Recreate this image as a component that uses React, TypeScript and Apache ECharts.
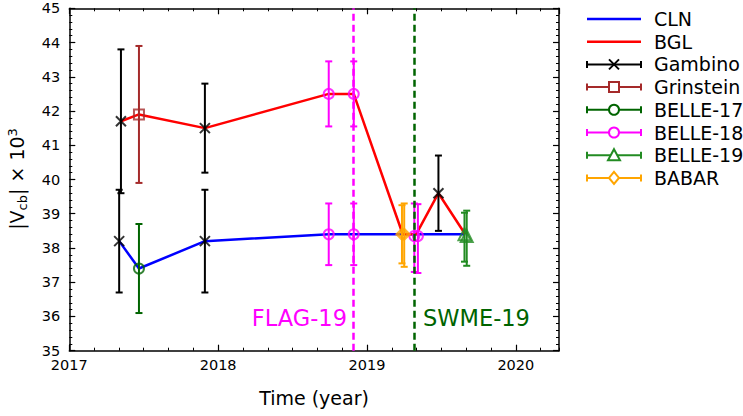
import React, { useEffect, useRef } from "react";
import * as echarts from "echarts";

const X_MIN = 2017;
const X_MAX = 2020.29;
const Y_MIN = 35;
const Y_MAX = 45;
const xTickLabels = ["2017", "2018", "2019", "2020"];

// Fit lines
const clnX = [2017.335, 2017.468, 2017.911, 2018.743, 2018.911, 2019.24, 2019.33, 2019.66];
const clnY = [38.2, 37.4, 38.2, 38.4, 38.4, 38.4, 38.4, 38.4];
const bglX = [2017.347, 2017.468, 2017.911, 2018.743, 2018.911, 2019.24, 2019.33, 2019.48, 2019.66];
const bglY = [41.7, 41.9, 41.5, 42.5, 42.5, 38.4, 38.4, 39.6, 38.4];

// Measurements [x, y, low, high]
const gambinoX = [2017.347, 2017.335, 2017.911, 2017.911, 2019.48];
const gambinoY = [41.7, 38.2, 41.5, 38.2, 39.6];
const gambinoLo = [39.6, 36.7, 40.2, 36.7, 38.5];
const gambinoHi = [43.8, 39.7, 42.8, 39.7, 40.7];

const grinsteinX = [2017.468];
const grinsteinY = [41.9];
const grinsteinLo = [39.9];
const grinsteinHi = [43.9];

const belle17X = [2017.468];
const belle17Y = [37.4];
const belle17Lo = [36.1];
const belle17Hi = [38.7];

const belle18X = [2018.743, 2018.911, 2018.743, 2018.911, 2019.318, 2019.342];
const belle18Y = [42.5, 42.5, 38.4, 38.4, 38.35, 38.35];
const belle18Lo = [41.55, 41.55, 37.5, 37.5, 37.3, 37.27];
const belle18Hi = [43.45, 43.45, 39.3, 39.3, 39.3, 39.28];

const belle19X = [2019.655, 2019.67];
const belle19Y = [38.4, 38.35];
const belle19Lo = [37.6, 37.48];
const belle19Hi = [39.03, 39.09];

const babarX = [2019.235, 2019.25];
const babarY = [38.4, 38.4];
const babarLo = [37.55, 37.45];
const babarHi = [39.25, 39.3];

const flagX = 2018.911;
const swmeX = 2019.32;

const FONT = "DejaVu Sans";
const MAGENTA = "#ff00ff";
const DARKGREEN = "#006400";

type Meas = {
  name: string;
  color: string;
  symbol: string;
  x: number[];
  y: number[];
  lo: number[];
  hi: number[];
};

const CROSS = "path://M0 0L10 10M10 0L0 10";

const measurements: Meas[] = [
  { name: "Gambino", color: "#000000", symbol: CROSS, x: gambinoX, y: gambinoY, lo: gambinoLo, hi: gambinoHi },
  { name: "Grinstein", color: "#a52a2a", symbol: "rect", x: grinsteinX, y: grinsteinY, lo: grinsteinLo, hi: grinsteinHi },
  { name: "BELLE-17", color: DARKGREEN, symbol: "circle", x: belle17X, y: belle17Y, lo: belle17Lo, hi: belle17Hi },
  { name: "BELLE-18", color: MAGENTA, symbol: "circle", x: belle18X, y: belle18Y, lo: belle18Lo, hi: belle18Hi },
  { name: "BELLE-19", color: "#228b22", symbol: "triangle", x: belle19X, y: belle19Y, lo: belle19Lo, hi: belle19Hi },
  { name: "BABAR", color: "#ffa500", symbol: "diamond", x: babarX, y: babarY, lo: babarLo, hi: babarHi },
];

function legendMarker(symbol: string, cx: number, cy: number, color: string): any {
  const st = { stroke: color, fill: "none", lineWidth: 2 };
  const r = 5;
  if (symbol === CROSS) {
    return {
      type: "group",
      children: [
        { type: "line", shape: { x1: cx - r, y1: cy - r, x2: cx + r, y2: cy + r }, style: st },
        { type: "line", shape: { x1: cx - r, y1: cy + r, x2: cx + r, y2: cy - r }, style: st },
      ],
    };
  }
  if (symbol === "rect") return { type: "rect", shape: { x: cx - r, y: cy - r, width: 2 * r, height: 2 * r }, style: { ...st, fill: "#fff" } };
  if (symbol === "circle") return { type: "circle", shape: { cx, cy, r }, style: { ...st, fill: "#fff" } };
  if (symbol === "triangle")
    return { type: "polygon", shape: { points: [[cx, cy - 6], [cx + 6, cy + 5], [cx - 6, cy + 5]] }, style: { ...st, fill: "#fff" } };
  return { type: "polygon", shape: { points: [[cx, cy - 6], [cx + 5, cy], [cx, cy + 6], [cx - 5, cy]] }, style: { ...st, fill: "#fff" } };
}

export default function App() {
  const ref = useRef<HTMLDivElement>(null);

  useEffect(() => {
    if (!ref.current) return;
    const chart = echarts.init(ref.current, null, { renderer: "svg" });

    const gridLeft = 69.3;
    const gridRight = 184;
    const gridTop = 8.3;
    const gridBottom = 65.3;

    const axisLineStyle = { color: "#000", width: 1.5 };

    const series: any[] = [
      {
        name: "CLN",
        type: "line",
        data: clnX.map((x, i) => [x, clnY[i]]),
        showSymbol: false,
        symbol: "none",
        lineStyle: { color: "#0000ff", width: 2.5 },
        z: 2,
        markLine: {
          silent: true,
          symbol: "none",
          label: { show: false },
          data: [
            { xAxis: flagX, lineStyle: { color: MAGENTA, width: 2.5, type: [7, 4] } },
            { xAxis: swmeX, lineStyle: { color: DARKGREEN, width: 2.5, type: [7, 4] } },
          ],
        },
      },
      {
        name: "BGL",
        type: "line",
        data: bglX.map((x, i) => [x, bglY[i]]),
        showSymbol: false,
        symbol: "none",
        lineStyle: { color: "#ff0000", width: 2.5 },
        z: 2,
      },
    ];

    measurements.forEach((m) => {
      const data = m.x.map((x, i) => [x, m.y[i], m.lo[i], m.hi[i]]);
      series.push({
        name: m.name + "-err",
        type: "custom",
        data,
        encode: { x: 0, y: [2, 3] },
        z: 3,
        renderItem: (params: any, api: any) => {
          const x = api.value(0);
          const top = api.coord([x, api.value(3)]);
          const bot = api.coord([x, api.value(2)]);
          const cw = 3.5;
          const st = { stroke: m.color, lineWidth: 2 };
          return {
            type: "group",
            children: [
              { type: "line", shape: { x1: top[0], y1: top[1], x2: bot[0], y2: bot[1] }, style: st },
              { type: "line", shape: { x1: top[0] - cw, y1: top[1], x2: top[0] + cw, y2: top[1] }, style: st },
              { type: "line", shape: { x1: bot[0] - cw, y1: bot[1], x2: bot[0] + cw, y2: bot[1] }, style: st },
            ],
          };
        },
      });
      series.push({
        name: m.name,
        type: "scatter",
        data: m.x.map((x, i) => [x, m.y[i]]),
        symbol: m.symbol,
        symbolSize: m.symbol === "triangle" ? 12 : m.symbol === "diamond" ? 11 : 10,
        itemStyle: { color: "none", borderColor: m.color, borderWidth: 2 },
        z: 4,
      });
    });

    // Legend drawn as graphics
    const legendItems: any[] = [];
    const lx1 = 587, lx2 = 641, lcx = 614, ltx = 654;
    const ly0 = 19, ldy = 22.7;
    const legendRows = [
      { name: "CLN", color: "#0000ff", symbol: "" },
      { name: "BGL", color: "#ff0000", symbol: "" },
      ...measurements.map((m) => ({ name: m.name, color: m.color, symbol: m.symbol })),
    ];
    legendRows.forEach((r, i) => {
      const y = ly0 + i * ldy;
      const st = { stroke: r.color, lineWidth: r.symbol ? 2 : 2.5 };
      legendItems.push({ type: "line", shape: { x1: lx1, y1: y, x2: lx2, y2: y }, style: st });
      if (r.symbol) {
        legendItems.push({ type: "line", shape: { x1: lx1, y1: y - 3.5, x2: lx1, y2: y + 3.5 }, style: st });
        legendItems.push({ type: "line", shape: { x1: lx2, y1: y - 3.5, x2: lx2, y2: y + 3.5 }, style: st });
        legendItems.push(legendMarker(r.symbol, lcx, y, r.color));
      }
      legendItems.push({
        type: "text",
        x: ltx,
        y,
        style: { text: r.name, fontFamily: FONT, fontSize: 19, fill: "#000", align: "left", verticalAlign: "middle" },
      });
    });

    const option: any = {
      animation: false,
      backgroundColor: "#fff",
      grid: { left: gridLeft, right: gridRight, top: gridTop, bottom: gridBottom, containLabel: false },
      xAxis: [
        {
          type: "value",
          min: X_MIN,
          max: X_MAX,
          interval: 1,
          position: "bottom",
          axisLine: { show: true, onZero: false, lineStyle: axisLineStyle },
          axisTick: { show: true, inside: true, length: 6, lineStyle: { color: "#000", width: 1.2 } },
          axisLabel: {
            show: true,
            showMaxLabel: false,
            margin: 7,
            fontFamily: FONT,
            fontSize: 14.5,
            color: "#000",
            formatter: (v: number) => (xTickLabels.includes(String(Math.round(v))) && Math.abs(v - Math.round(v)) < 1e-6 ? String(Math.round(v)) : ""),
          },
          splitLine: { show: false },
        },
        {
          type: "value",
          min: 0,
          max: (X_MAX - X_MIN) * 12,
          interval: 2,
          position: "bottom",
          axisLine: { show: false },
          axisTick: { show: true, inside: true, length: 3, lineStyle: { color: "#000", width: 1 } },
          axisLabel: { show: false },
          splitLine: { show: false },
        },
        {
          type: "value",
          min: X_MIN,
          max: X_MAX,
          interval: 1,
          position: "top",
          axisLine: { show: true, onZero: false, lineStyle: axisLineStyle },
          axisTick: { show: true, inside: true, length: 6, lineStyle: { color: "#000", width: 1.2 } },
          axisLabel: { show: false },
          splitLine: { show: false },
        },
        {
          type: "value",
          min: 0,
          max: (X_MAX - X_MIN) * 12,
          interval: 2,
          position: "top",
          axisLine: { show: false },
          axisTick: { show: true, inside: true, length: 3, lineStyle: { color: "#000", width: 1 } },
          axisLabel: { show: false },
          splitLine: { show: false },
        },
      ],
      yAxis: [
        {
          type: "value",
          min: Y_MIN,
          max: Y_MAX,
          interval: 1,
          position: "left",
          axisLine: { show: true, onZero: false, lineStyle: axisLineStyle },
          axisTick: { show: true, inside: true, length: 6, lineStyle: { color: "#000", width: 1.2 } },
          minorTick: { show: true, splitNumber: 5, length: 3, lineStyle: { color: "#000", width: 1 } },
          axisLabel: { show: true, margin: 9, fontFamily: FONT, fontSize: 14.5, color: "#000" },
          splitLine: { show: false },
          minorSplitLine: { show: false },
        },
        {
          type: "value",
          min: Y_MIN,
          max: Y_MAX,
          interval: 1,
          position: "right",
          axisLine: { show: true, onZero: false, lineStyle: axisLineStyle },
          axisTick: { show: true, inside: true, length: 6, lineStyle: { color: "#000", width: 1.2 } },
          minorTick: { show: true, splitNumber: 5, length: 3, lineStyle: { color: "#000", width: 1 } },
          axisLabel: { show: false },
          splitLine: { show: false },
          minorSplitLine: { show: false },
        },
      ],
      series,
      graphic: [
        ...legendItems,
        {
          type: "text",
          x: 314,
          y: 398,
          style: { text: "Time (year)", fontFamily: FONT, fontSize: 19, fill: "#000", align: "center", verticalAlign: "middle" },
        },
        {
          type: "text",
          x: 17,
          y: 179,
          rotation: Math.PI / 2,
          style: {
            text: "{n||V}{s|cb}{n|| × 10}{p|3}",
            fontFamily: FONT,
            fontSize: 19,
            fill: "#000",
            align: "center",
            verticalAlign: "middle",
            rich: {
              n: { fontFamily: FONT, fontSize: 19, fill: "#000", lineHeight: 24, verticalAlign: "middle" },
              s: { fontFamily: FONT, fontSize: 13, fill: "#000", lineHeight: 24, padding: [10, 0, 0, 0] },
              p: { fontFamily: FONT, fontSize: 13, fill: "#000", lineHeight: 24, padding: [0, 0, 10, 0] },
            },
          },
        },
        {
          type: "text",
          x: 347,
          y: 318,
          style: { text: "FLAG-19", fontFamily: FONT, fontSize: 22.5, fill: MAGENTA, align: "right", verticalAlign: "middle" },
        },
        {
          type: "text",
          x: 423,
          y: 318,
          style: { text: "SWME-19", fontFamily: FONT, fontSize: 22.5, fill: DARKGREEN, align: "left", verticalAlign: "middle" },
        },
      ],
    };

    chart.setOption(option);
    return () => chart.dispose();
  }, []);

  return <div ref={ref} style={{ width: 743, height: 416, position: "absolute", left: 0, top: 0 }} />;
}
